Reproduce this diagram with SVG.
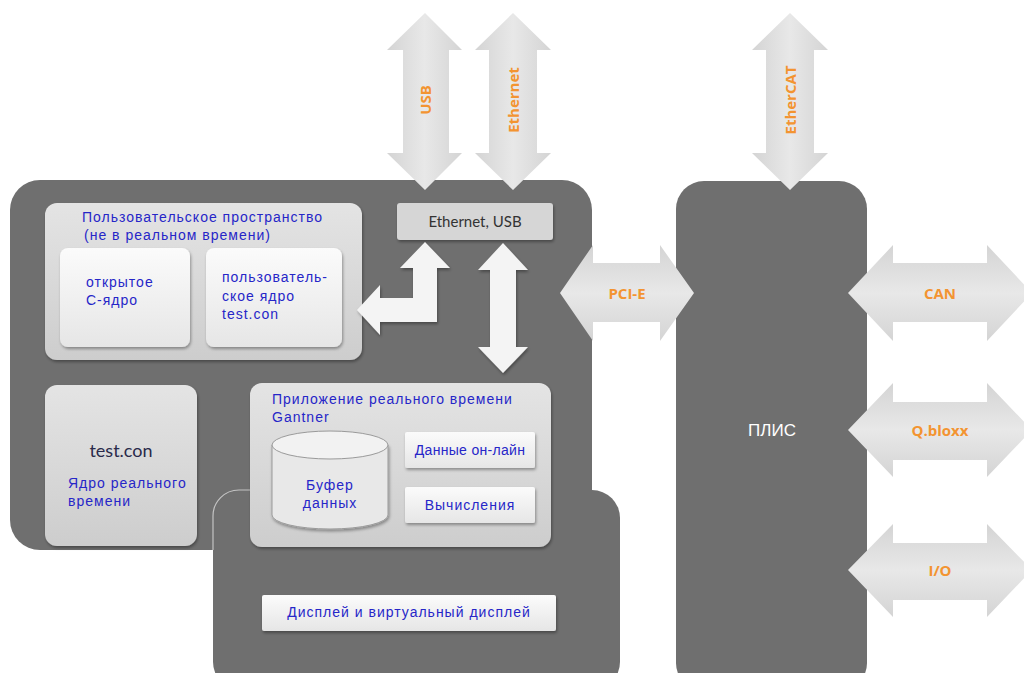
<svg xmlns="http://www.w3.org/2000/svg" width="1024" height="673" viewBox="0 0 1024 673">
<defs>
<linearGradient id="panel" x1="0" y1="0" x2="0" y2="1">
<stop offset="0" stop-color="#e4e4e4"/><stop offset="1" stop-color="#cdcdcd"/>
</linearGradient>
<linearGradient id="box" x1="0" y1="0" x2="0" y2="1">
<stop offset="0" stop-color="#fbfbfb"/><stop offset="1" stop-color="#e6e6e6"/>
</linearGradient>
<linearGradient id="arrV" x1="0" y1="0" x2="1" y2="0">
<stop offset="0" stop-color="#d4d4d4"/><stop offset="0.5" stop-color="#e8e8e8"/><stop offset="1" stop-color="#d4d4d4"/>
</linearGradient>
<linearGradient id="arrH" x1="0" y1="0" x2="0" y2="1">
<stop offset="0" stop-color="#d4d4d4"/><stop offset="0.5" stop-color="#e8e8e8"/><stop offset="1" stop-color="#d4d4d4"/>
</linearGradient>
<filter id="sh" x="-10%" y="-10%" width="120%" height="130%">
<feDropShadow dx="1" dy="2" stdDeviation="1.5" flood-color="#000" flood-opacity="0.35"/>
</filter>
</defs>
<style>
.dark{fill:#6f6f6f}
.panel{fill:url(#panel);filter:url(#sh)}
.box{fill:url(#box);filter:url(#sh)}
.av{fill:url(#arrV)}
.ah{fill:url(#arrH)}
.wa{fill:#f4f4f4;filter:url(#sh)}
.blue{font-family:"Liberation Sans",Arial,sans-serif;font-size:14px;letter-spacing:1px;fill:#2626c8}
.dk{font-family:"Lato","Liberation Sans",sans-serif;fill:#333}
.or{font-family:"Open Sans","Liberation Sans",sans-serif;font-weight:bold;font-size:15px;fill:#f39431}
</style>
<rect width="1024" height="673" fill="#ffffff"/>

<g id="board">
<rect class="dark" x="10" y="180" width="582" height="370" rx="30"/>
<rect class="dark" x="213" y="490" width="407" height="200" rx="28"/>
<path d="M213,550 L213,516 A26,26 0 0 1 239,490 L252,490" fill="none" stroke="#c4c4c4" stroke-width="1.2"/>
</g>
<g id="fpga">
<rect class="dark" x="676" y="181" width="191" height="510" rx="28"/>
<text x="772" y="436" text-anchor="middle" font-family="Liberation Sans,Arial,sans-serif" font-size="17" fill="#ffffff">ПЛИС</text>
</g>

<g id="eth-usb">
<rect class="box" x="397" y="203" width="156" height="37" rx="3" style="fill:#d6d6d6"/>
<text class="dk" x="475" y="227" text-anchor="middle" font-size="15">Ethernet, USB</text>
</g>

<g id="userspace">
<rect class="panel" x="45" y="203" width="317" height="157" rx="12"/>
<text class="blue" x="82" y="222">Пользовательское пространство</text>
<text class="blue" x="84" y="240">(не в реальном времени)</text>
</g>
<g id="open-c">
<rect class="box" x="60" y="248" width="130" height="99" rx="8"/>
<text class="blue" x="86" y="287">открытое</text>
<text class="blue" x="86" y="305">С-ядро</text>
</g>
<g id="user-core">
<rect class="box" x="206" y="248" width="136" height="99" rx="8"/>
<text class="blue" x="222" y="282">пользователь-</text>
<text class="blue" x="222" y="301">ское ядро</text>
<text class="blue" x="222" y="319">test.con</text>
</g>

<g id="rt-core">
<rect class="panel" x="45" y="385" width="152" height="161" rx="12"/>
<text class="dk" x="121" y="457" text-anchor="middle" font-size="18" style="fill:#2a2a4a">test.con</text>
<text class="blue" x="68" y="488">Ядро реального</text>
<text class="blue" x="68" y="506">времени</text>
</g>

<g id="rt-app">
<rect class="panel" x="250" y="383" width="301" height="164" rx="12"/>
<text class="blue" x="272" y="404">Приложение реального времени</text>
<text class="blue" x="272" y="422">Gantner</text>
</g>
<g id="buffer">
<path d="M272,445 L272,515 A58,14 0 0 0 388,515 L388,445 Z" fill="#e8e8e8" stroke="#9a9a9a" stroke-width="1" filter="url(#sh)"/>
<ellipse cx="330" cy="445" rx="58" ry="14" fill="#f2f2f2" stroke="#9a9a9a" stroke-width="1"/>
<text class="blue" x="330" y="490" text-anchor="middle">Буфер</text>
<text class="blue" x="330" y="508" text-anchor="middle">данных</text>
</g>
<g id="online">
<rect class="box" x="405" y="432" width="130" height="36" rx="2"/>
<text class="blue" x="470" y="455" text-anchor="middle" style="letter-spacing:0.3px">Данные он-лайн</text>
</g>
<g id="calc">
<rect class="box" x="405" y="487" width="130" height="36" rx="2"/>
<text class="blue" x="470" y="510" text-anchor="middle">Вычисления</text>
</g>
<g id="display">
<rect class="box" x="262" y="595" width="294" height="36" rx="2"/>
<text class="blue" x="409" y="617" text-anchor="middle">Дисплей и виртуальный дисплей</text>
</g>

<g id="connectors">
<path class="av" d="M425,13 L462,50 L449,50 L449,153 L462,153 L425,190 L387,153 L403,153 L403,50 L387,50 Z"/>
<path class="av" d="M513,13 L551,50 L537,50 L537,153 L551,153 L513,190 L475,153 L489,153 L489,50 L475,50 Z"/>
<path class="av" d="M790,13 L828,50 L814,50 L814,153 L828,153 L790,190 L752,153 L766,153 L766,50 L752,50 Z"/>
<text class="or" transform="translate(431,100) rotate(-90)" text-anchor="middle">USB</text>
<text class="or" transform="translate(519,100) rotate(-90)" text-anchor="middle">Ethernet</text>
<text class="or" transform="translate(796,100) rotate(-90)" text-anchor="middle">EtherCAT</text>

<path class="ah" d="M560,293 L593,245 L593,263 L660,263 L660,245 L694,293 L660,341 L660,322 L593,322 L593,341 Z"/>
<path class="ah" d="M848,293 L893,245 L893,263 L987,263 L987,245 L1032,293 L987,341 L987,322 L893,322 L893,341 Z"/>
<path class="ah" d="M848,430 L893,383 L893,402 L987,402 L987,383 L1032,430 L987,477 L987,460 L893,460 L893,477 Z"/>
<path class="ah" d="M848,570 L893,524 L893,543 L987,543 L987,524 L1032,570 L987,617 L987,600 L893,600 L893,617 Z"/>
<text class="or" x="627" y="299" text-anchor="middle">PCI-E</text>
<text class="or" x="940" y="299" text-anchor="middle">CAN</text>
<text class="or" x="940" y="436" text-anchor="middle">Q.bloxx</text>
<text class="or" x="940" y="576" text-anchor="middle">I/O</text>

<path class="wa" d="M425,242 L450,268 L437,268 L437,322 L380,322 L380,335 L357,310 L380,285 L380,298 L413,298 L413,268 L400,268 Z"/>
<path class="wa" d="M503,243 L528,270 L516,270 L516,347 L528,347 L503,373 L478,347 L490,347 L490,270 L478,270 Z"/>
</g>
</svg>
